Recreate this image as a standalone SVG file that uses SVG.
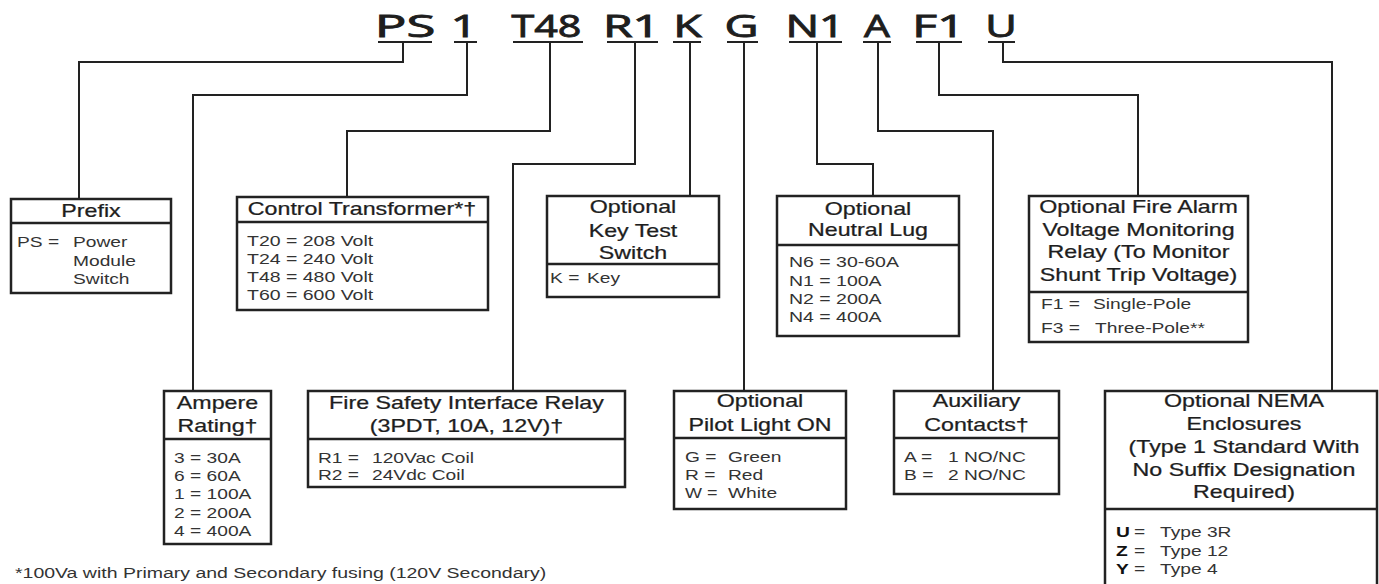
<svg xmlns="http://www.w3.org/2000/svg" width="1379" height="584" viewBox="0 0 1379 584">
<style>
.box{fill:#fff;stroke:#222;stroke-width:2.5}
.dv{stroke:#222;stroke-width:2.5}
.con{fill:none;stroke:#222;stroke-width:2}
.ul{stroke:#222;stroke-width:2}
.t{font-family:"Open Sans","Liberation Sans",sans-serif;font-weight:400;font-size:31px;fill:#1e1e1e;text-anchor:middle;stroke:#1e1e1e;stroke-width:0.9}
.h{font-family:"Liberation Sans",Arial,sans-serif;font-size:18px;fill:#1e1e1e;text-anchor:middle;stroke:#1e1e1e;stroke-width:0.25}
.b{font-family:"Liberation Sans",Arial,sans-serif;font-size:15px;fill:#333}
.bb{font-weight:bold;fill:#111}
</style>
<rect width="1379" height="584" fill="#fff"/>
<g id="title">
<text class="t" transform="translate(405 37) scale(1.7 1)">PS</text>
<text class="t" transform="translate(464 37) scale(1.5 1)">1</text>
<text class="t" transform="translate(546.5 37) scale(1.33 1)">T48</text>
<text class="t" transform="translate(631.5 37) scale(1.55 1)">R1</text>
<text class="t" transform="translate(687.5 37) scale(1.5 1)">K</text>
<text class="t" transform="translate(741.5 37) scale(1.51 1)">G</text>
<text class="t" transform="translate(815 37) scale(1.44 1)">N1</text>
<text class="t" transform="translate(877 37) scale(1.32 1)">A</text>
<text class="t" transform="translate(938.5 37) scale(1.55 1)">F1</text>
<text class="t" transform="translate(1001 37) scale(1.4 1)">U</text>
<line class="ul" x1="378" y1="42" x2="432" y2="42"/>
<line class="ul" x1="454" y1="42" x2="477" y2="42"/>
<line class="ul" x1="513" y1="42" x2="583" y2="42"/>
<line class="ul" x1="607" y1="42" x2="658" y2="42"/>
<line class="ul" x1="673" y1="42" x2="701" y2="42"/>
<line class="ul" x1="727" y1="42" x2="758" y2="42"/>
<line class="ul" x1="789" y1="42" x2="842" y2="42"/>
<line class="ul" x1="863" y1="42" x2="891" y2="42"/>
<line class="ul" x1="916" y1="42" x2="962" y2="42"/>
<line class="ul" x1="988" y1="42" x2="1015" y2="42"/>
</g>
<g id="connectors">
<path class="con" d="M403 42V62H79V199"/>
<path class="con" d="M467 42V95H193V391"/>
<path class="con" d="M550 42V131H347V197"/>
<path class="con" d="M635 42V164H513V391"/>
<path class="con" d="M690 42V196"/>
<path class="con" d="M744 42V391"/>
<path class="con" d="M817 42V164H873V196"/>
<path class="con" d="M878 42V131H993V391"/>
<path class="con" d="M939 42V95H1138V196"/>
<path class="con" d="M1003 42V62H1332V391"/>
</g>
<g id="prefix">
<rect class="box" x="11" y="199" width="160" height="94"/>
<line class="dv" x1="11" y1="223" x2="171" y2="223"/>
<text class="h" transform="translate(91 217) scale(1.29 1)">Prefix</text>
<text class="b" transform="translate(17 247) scale(1.28 1)">PS =</text>
<text class="b" transform="translate(73 247) scale(1.28 1)">Power</text>
<text class="b" transform="translate(73 266) scale(1.28 1)">Module</text>
<text class="b" transform="translate(73 284) scale(1.28 1)">Switch</text>
</g>
<g id="control-transformer">
<rect class="box" x="237" y="197" width="251" height="113"/>
<line class="dv" x1="237" y1="222" x2="488" y2="222"/>
<text class="h" transform="translate(362 215) scale(1.29 1)">Control Transformer*†</text>
<text class="b" transform="translate(247 246) scale(1.3 1)">T20 = 208 Volt</text>
<text class="b" transform="translate(247 264) scale(1.3 1)">T24 = 240 Volt</text>
<text class="b" transform="translate(247 282) scale(1.3 1)">T48 = 480 Volt</text>
<text class="b" transform="translate(247 300) scale(1.3 1)">T60 = 600 Volt</text>
</g>
<g id="key-test">
<rect class="box" x="547" y="196" width="172" height="101"/>
<line class="dv" x1="547" y1="264" x2="719" y2="264"/>
<text class="h" transform="translate(633 213) scale(1.29 1)">Optional</text>
<text class="h" transform="translate(633 237) scale(1.29 1)">Key Test</text>
<text class="h" transform="translate(633 259) scale(1.29 1)">Switch</text>
<text class="b" transform="translate(550 283) scale(1.28 1)">K =</text>
<text class="b" transform="translate(587 283) scale(1.28 1)">Key</text>
</g>
<g id="neutral-lug">
<rect class="box" x="777" y="196" width="182" height="140"/>
<line class="dv" x1="777" y1="245" x2="959" y2="245"/>
<text class="h" transform="translate(868 215) scale(1.29 1)">Optional</text>
<text class="h" transform="translate(868 236) scale(1.29 1)">Neutral Lug</text>
<text class="b" transform="translate(789 267) scale(1.3 1)">N6 = 30-60A</text>
<text class="b" transform="translate(789 286) scale(1.3 1)">N1 = 100A</text>
<text class="b" transform="translate(789 304) scale(1.3 1)">N2 = 200A</text>
<text class="b" transform="translate(789 322) scale(1.3 1)">N4 = 400A</text>
</g>
<g id="fire-alarm">
<rect class="box" x="1029" y="196" width="219" height="146"/>
<line class="dv" x1="1029" y1="292" x2="1248" y2="292"/>
<text class="h" transform="translate(1138.5 213) scale(1.29 1)">Optional Fire Alarm</text>
<text class="h" transform="translate(1138.5 236) scale(1.29 1)">Voltage Monitoring</text>
<text class="h" transform="translate(1138.5 258) scale(1.29 1)">Relay (To Monitor</text>
<text class="h" transform="translate(1138.5 281) scale(1.29 1)">Shunt Trip Voltage)</text>
<text class="b" transform="translate(1041 309) scale(1.28 1)">F1 =</text>
<text class="b" transform="translate(1093 309) scale(1.28 1)">Single-Pole</text>
<text class="b" transform="translate(1041 333) scale(1.28 1)">F3 =</text>
<text class="b" transform="translate(1095 333) scale(1.28 1)">Three-Pole**</text>
</g>
<g id="ampere">
<rect class="box" x="164" y="391" width="107" height="153"/>
<line class="dv" x1="164" y1="439" x2="271" y2="439"/>
<text class="h" transform="translate(217.5 409) scale(1.29 1)">Ampere</text>
<text class="h" transform="translate(217.5 432) scale(1.29 1)">Rating†</text>
<text class="b" transform="translate(174 463) scale(1.28 1)">3 = 30A</text>
<text class="b" transform="translate(174 481) scale(1.28 1)">6 = 60A</text>
<text class="b" transform="translate(174 499) scale(1.28 1)">1 = 100A</text>
<text class="b" transform="translate(174 518) scale(1.28 1)">2 = 200A</text>
<text class="b" transform="translate(174 536) scale(1.28 1)">4 = 400A</text>
</g>
<g id="fire-safety">
<rect class="box" x="308" y="391" width="317" height="96"/>
<line class="dv" x1="308" y1="439" x2="625" y2="439"/>
<text class="h" transform="translate(466.5 409) scale(1.29 1)">Fire Safety Interface Relay</text>
<text class="h" transform="translate(466.5 432) scale(1.29 1)">(3PDT, 10A, 12V)†</text>
<text class="b" transform="translate(318 463) scale(1.28 1)">R1 =</text>
<text class="b" transform="translate(372 463) scale(1.28 1)">120Vac Coil</text>
<text class="b" transform="translate(318 480) scale(1.28 1)">R2 =</text>
<text class="b" transform="translate(372 480) scale(1.28 1)">24Vdc Coil</text>
</g>
<g id="pilot-light">
<rect class="box" x="674" y="391" width="172" height="118"/>
<line class="dv" x1="674" y1="438" x2="846" y2="438"/>
<text class="h" transform="translate(760 407) scale(1.29 1)">Optional</text>
<text class="h" transform="translate(760 431) scale(1.29 1)">Pilot Light ON</text>
<text class="b" transform="translate(685 462) scale(1.28 1)">G =</text>
<text class="b" transform="translate(728 462) scale(1.28 1)">Green</text>
<text class="b" transform="translate(685 480) scale(1.28 1)">R =</text>
<text class="b" transform="translate(728 480) scale(1.28 1)">Red</text>
<text class="b" transform="translate(685 498) scale(1.2 1)">W =</text>
<text class="b" transform="translate(728 498) scale(1.28 1)">White</text>
</g>
<g id="auxiliary">
<rect class="box" x="894" y="391" width="165" height="103"/>
<line class="dv" x1="894" y1="438" x2="1059" y2="438"/>
<text class="h" transform="translate(976.5 407) scale(1.29 1)">Auxiliary</text>
<text class="h" transform="translate(976.5 431) scale(1.29 1)">Contacts†</text>
<text class="b" transform="translate(904 462) scale(1.28 1)">A =</text>
<text class="b" transform="translate(948 462) scale(1.28 1)">1 NO/NC</text>
<text class="b" transform="translate(904 480) scale(1.28 1)">B =</text>
<text class="b" transform="translate(948 480) scale(1.28 1)">2 NO/NC</text>
</g>
<g id="nema">
<rect class="box" x="1105" y="391" width="272" height="200"/>
<line class="dv" x1="1105" y1="509" x2="1377" y2="509"/>
<text class="h" transform="translate(1244 407) scale(1.29 1)">Optional NEMA</text>
<text class="h" transform="translate(1244 430) scale(1.29 1)">Enclosures</text>
<text class="h" transform="translate(1244 453) scale(1.29 1)">(Type 1 Standard With</text>
<text class="h" transform="translate(1244 476) scale(1.29 1)">No Suffix Designation</text>
<text class="h" transform="translate(1244 498) scale(1.29 1)">Required)</text>
<text class="b bb" transform="translate(1116 537) scale(1.28 1)">U</text>
<text class="b" transform="translate(1134 537) scale(1.28 1)">=</text>
<text class="b" transform="translate(1160 537) scale(1.28 1)">Type 3R</text>
<text class="b bb" transform="translate(1116 556) scale(1.28 1)">Z</text>
<text class="b" transform="translate(1134 556) scale(1.28 1)">=</text>
<text class="b" transform="translate(1160 556) scale(1.28 1)">Type 12</text>
<text class="b bb" transform="translate(1116 574) scale(1.28 1)">Y</text>
<text class="b" transform="translate(1134 574) scale(1.28 1)">=</text>
<text class="b" transform="translate(1160 574) scale(1.28 1)">Type 4</text>
</g>
<g id="footnote">
<text class="b" transform="translate(15 578) scale(1.3 1)">*100Va with Primary and Secondary fusing (120V Secondary)</text>
</g>
</svg>
